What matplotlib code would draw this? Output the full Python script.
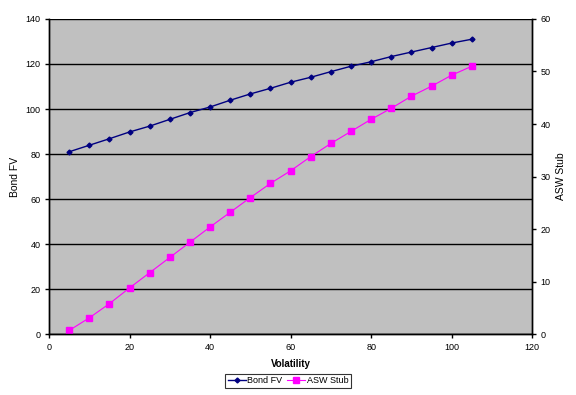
import matplotlib.pyplot as plt

plt.rcParams['font.family'] = ['Liberation Sans', 'DejaVu Sans']

# data
volatility = [5, 10, 15, 20, 25, 30, 35, 40, 45, 50, 55,
              60, 65, 70, 75, 80, 85, 90, 95, 100, 105]
bond_fv = [81.0, 83.9, 86.8, 89.8, 92.4, 95.4, 98.4, 100.9, 103.9, 106.7, 109.2,
           111.9, 114.1, 116.6, 119.0, 121.0, 123.3, 125.3, 127.3, 129.3, 131.0]
asw_stub = [0.7, 3.1, 5.8, 8.8, 11.7, 14.6, 17.5, 20.4, 23.2, 26.0, 28.7,
            31.1, 33.8, 36.3, 38.6, 40.9, 43.0, 45.3, 47.2, 49.3, 51.0]

fig = plt.figure(figsize=(5.76, 3.95), dpi=100)
ax = fig.add_axes([0.085, 0.154, 0.839, 0.798])
ax2 = ax.twinx()

ax.set_facecolor('#C0C0C0')
ax.set_zorder(ax2.get_zorder() - 1)
ax2.patch.set_visible(False)

l1, = ax.plot(volatility, bond_fv, color='#000080', lw=1, marker='D', ms=2.5,
              label='Bond FV')
l2, = ax2.plot(volatility, asw_stub, color='#FF00FF', lw=0.8, marker='s', ms=4,
               label='ASW Stub')

ax.set_xlim(0, 120)
ax.set_ylim(0, 140)
ax2.set_ylim(0, 60)
ax.set_xticks(range(0, 121, 20))
ax.set_yticks(range(0, 141, 20))
ax2.set_yticks(range(0, 61, 10))
ax.yaxis.grid(True, color='black', lw=1)
ax.set_axisbelow(True)

for a in (ax, ax2):
    a.spines['top'].set_visible(False)
    a.tick_params(labelsize=6.5, length=3, width=1, direction='out', pad=3)
    for s in a.spines.values():
        s.set_linewidth(1)

ax.set_xlabel('Volatility', fontsize=7, fontweight='bold')
ax.xaxis.set_label_coords(0.5, -0.08)
ax.set_ylabel('Bond FV', fontsize=7.5)
ax.yaxis.set_label_coords(-0.06, 0.5)
ax2.set_ylabel('ASW Stub', fontsize=7.5)
ax2.yaxis.set_label_coords(1.05, 0.5)

leg = fig.legend([l1, l2], ['Bond FV', 'ASW Stub'], loc='center',
                 bbox_to_anchor=(0.5, 0.036), ncol=2, fontsize=6.5,
                 frameon=True, fancybox=False, edgecolor='black',
                 handlelength=2.0, columnspacing=0.5, handletextpad=0.2,
                 borderpad=0.3, borderaxespad=0.2)
leg.get_frame().set_linewidth(0.8)

fig.savefig('out.png', dpi=100)
